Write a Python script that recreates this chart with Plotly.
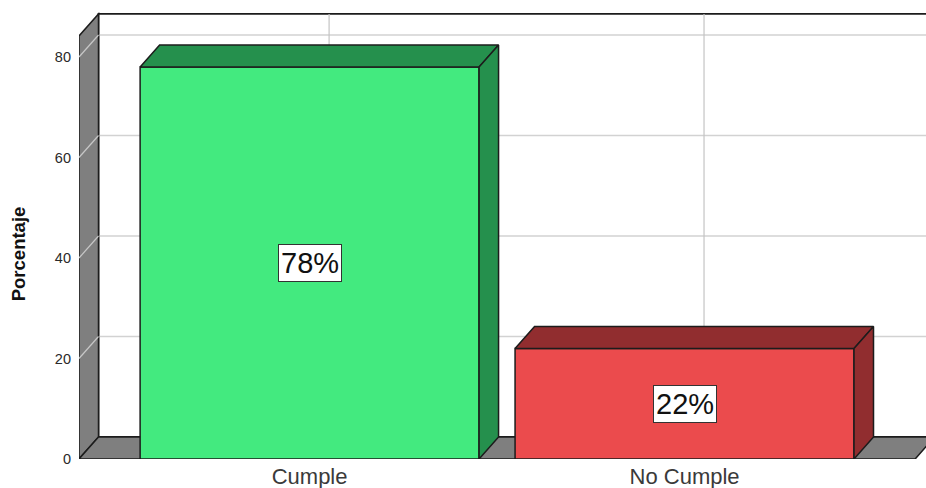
import plotly.graph_objects as go

categories = ["Cumple", "No Cumple"]
values = [78, 22]
labels = ["78%", "22%"]
front_colors = ["#43EA7F", "#EB4B4D"]
dark_colors = ["#25904D", "#912D2F"]
y_ticks = [0, 20, 40, 60, 80]

# layout constants (axis units)
X_MIN, X_MAX = -0.615, 1.644
Y_MIN, Y_MAX = 0, 88.96
DX, DY = 0.052, 4.38          # depth offset of the pseudo-3D back plane
BAR_W = 0.904
FLOOR_RIGHT = 1.615
WALL_TOP = 84.2
OUTLINE = "#1c1c1c"
WALL_GRAY = "#7f7f7f"

xs = list(range(len(categories)))

fig = go.Figure()
shapes = []

def poly(pts):
    return "M " + " L ".join(f"{x},{y}" for x, y in pts) + " Z"

# back wall
shapes.append(dict(type="path", layer="below", xref="x", yref="y",
                   path=poly([(X_MIN + DX, DY), (X_MIN + DX, WALL_TOP + DY),
                              (X_MAX + 0.2, WALL_TOP + DY), (X_MAX + 0.2, DY)]),
                   fillcolor="white", line=dict(color=OUTLINE, width=1.8)))
# back-wall horizontal gridlines
for t in y_ticks[1:]:
    shapes.append(dict(type="line", layer="below", xref="x", yref="y",
                       x0=X_MIN + DX, x1=X_MAX + 0.2, y0=t + DY, y1=t + DY,
                       line=dict(color="#d2d2d2", width=1.5)))
# back-wall vertical gridlines
for x in xs:
    shapes.append(dict(type="line", layer="below", xref="x", yref="y",
                       x0=x + DX, x1=x + DX, y0=DY, y1=WALL_TOP + DY,
                       line=dict(color="#c4c4c4", width=1.2)))
# left wall
shapes.append(dict(type="path", layer="below", xref="x", yref="y",
                   path=poly([(X_MIN, 0), (X_MIN, WALL_TOP), (X_MIN + DX, WALL_TOP + DY),
                              (X_MIN + DX, DY)]),
                   fillcolor=WALL_GRAY, line=dict(color=OUTLINE, width=1.5)))
for t in y_ticks[1:]:
    shapes.append(dict(type="line", layer="below", xref="x", yref="y",
                       x0=X_MIN, x1=X_MIN + DX, y0=t, y1=t + DY,
                       line=dict(color="#c8c8c8", width=1.2)))
# floor
shapes.append(dict(type="path", layer="below", xref="x", yref="y",
                   path=poly([(X_MIN, 0), (FLOOR_RIGHT, 0), (FLOOR_RIGHT + DX, DY),
                              (X_MIN + DX, DY)]),
                   fillcolor=WALL_GRAY, line=dict(color=OUTLINE, width=1.5)))

# front faces of bars
fig.add_trace(go.Bar(x=xs, y=values, width=BAR_W,
                     marker=dict(color=front_colors, line=dict(color=OUTLINE, width=1.5)),
                     hoverinfo="skip", showlegend=False))

# top and side faces
for x, v, dc in zip(xs, values, dark_colors):
    l, r = x - BAR_W / 2, x + BAR_W / 2
    top = [(l, v), (l + DX, v + DY), (r + DX, v + DY), (r, v), (l, v)]
    side = [(r, 0), (r, v), (r + DX, v + DY), (r + DX, DY), (r, 0)]
    for pts in (top, side):
        fig.add_trace(go.Scatter(x=[p[0] for p in pts], y=[p[1] for p in pts],
                                 mode="lines", fill="toself", fillcolor=dc,
                                 line=dict(color=OUTLINE, width=1.5),
                                 hoverinfo="skip", showlegend=False))

annotations = []
for x, v, lab in zip(xs, values, labels):
    annotations.append(dict(x=x, y=v / 2, xref="x", yref="y", text=lab, showarrow=False,
                            font=dict(size=29, color="#111", family="Arial, Liberation Sans"),
                            bgcolor="white", bordercolor="#333", borderwidth=1, borderpad=2))
annotations.append(dict(xref="paper", yref="paper", x=0, y=0.458, xshift=-61,
                        xanchor="center", yanchor="middle",
                        text="<b>Porcentaje</b>", textangle=-90, showarrow=False,
                        font=dict(size=18.5, color="#111",
                                  family="Liberation Sans Narrow, Arial Narrow, Liberation Sans")))

fig.update_layout(
    width=926, height=488,
    margin=dict(l=79, r=0, t=12, b=29, autoexpand=False),
    paper_bgcolor="white", plot_bgcolor="white",
    shapes=shapes, annotations=annotations,
    font=dict(family="Arial, Liberation Sans", color="#222"),
    xaxis=dict(range=[X_MIN, X_MAX], tickvals=xs, ticktext=categories,
               showgrid=False, zeroline=False, showline=False, ticks="",
               automargin=False, ticklabelstandoff=2,
               tickfont=dict(size=22, color="#3a3a3a")),
    yaxis=dict(range=[Y_MIN, Y_MAX], tickvals=y_ticks, showgrid=False,
               zeroline=False, showline=False, ticks="",
               automargin=False, ticklabelstandoff=7,
               tickfont=dict(size=14.5, color="#2a2a2a")),
)

# remove the default page margin so the figure fills the 926x488 window exactly
fig.write_html("out.html", config={"displayModeBar": False},
               post_script="document.body.style.margin='0';document.body.style.overflow='hidden';")
